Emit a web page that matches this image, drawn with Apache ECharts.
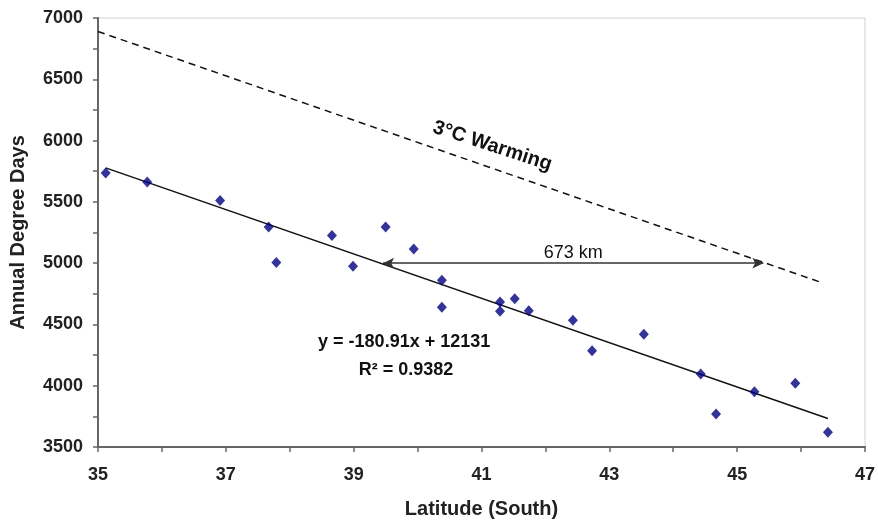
<!DOCTYPE html>
<html>
<head>
<meta charset="utf-8">
<script src="https://cdn.jsdelivr.net/npm/echarts@6/dist/echarts.min.js"></script>
<style>
  html, body { margin: 0; padding: 0; background: #fff; }
  #main { width: 878px; height: 524px; }
</style>
</head>
<body>
<div id="main"></div>
<script>
// site observations: latitude (south) vs annual degree days
var latitude = [35.12, 35.77, 36.91, 37.67, 37.79, 38.66, 38.99, 39.50, 39.94, 40.38, 40.38,
                41.29, 41.29, 41.52, 41.74, 42.43, 42.73, 43.54, 44.43, 44.67, 45.27, 45.91, 46.42];
var degreeDays = [5735, 5662, 5512, 5295, 5005, 5225, 4975, 5295, 5116, 4860, 4640,
                  4683, 4608, 4710, 4612, 4535, 4285, 4420, 4095, 3770, 3950, 4020, 3620];

// linear fit y = -180.91x + 12131 drawn over the data range
var fitSlope = -180.91;
var fitIntercept = 12131;
var fitRange = [35.12, 46.42];

// 3C warming line endpoints
var warmX = [35, 46.33];
var warmY = [6890, 4840];

// 673 km shift arrow at 5000 degree days
var arrowX = [39.46, 45.41];
var arrowY = 5000;

var fitLine = fitRange.map(function (x) { return [x, fitSlope * x + fitIntercept]; });
var warmLine = [[warmX[0], warmY[0]], [warmX[1], warmY[1]]];
var points = latitude.map(function (x, i) { return [x, degreeDays[i]]; });

var chart = echarts.init(document.getElementById('main'));
var font = '"Liberation Sans", Arial, sans-serif';

var option = {
    animation: false,
    backgroundColor: '#fff',
    grid: {
        left: 97,
        right: 11,
        top: 18,
        bottom: 77,
        show: true,
        borderColor: '#d0d0d0',
        borderWidth: 1
    },
    xAxis: {
        type: 'value',
        min: 35,
        max: 47,
        interval: 1,
        name: 'Latitude (South)',
        nameLocation: 'middle',
        nameGap: 52,
        nameTextStyle: { fontFamily: font, fontWeight: 'bold', fontSize: 20, color: '#222' },
        axisLine: { onZero: false, lineStyle: { color: '#666', width: 2 } },
        axisTick: { show: true, length: 5, lineStyle: { color: '#666', width: 1.5 } },
        splitLine: { show: false },
        axisLabel: {
            margin: 19,
            fontFamily: font,
            fontWeight: 'bold',
            fontSize: 18,
            color: '#222',
            formatter: function (v) { return v % 2 === 1 ? String(v) : ''; }
        }
    },
    yAxis: {
        type: 'value',
        min: 3500,
        max: 7000,
        interval: 250,
        name: 'Annual Degree Days',
        nameLocation: 'middle',
        nameRotate: 90,
        nameGap: 70,
        nameTextStyle: { fontFamily: font, fontWeight: 'bold', fontSize: 20, color: '#222' },
        axisLine: { show: true, onZero: false, lineStyle: { color: '#666', width: 2 } },
        axisTick: { show: true, length: 5, lineStyle: { color: '#666', width: 1.5 } },
        splitLine: { show: false },
        axisLabel: {
            margin: 15,
            fontFamily: font,
            fontWeight: 'bold',
            fontSize: 18,
            color: '#222',
            formatter: function (v) { return v % 500 === 0 ? String(v) : ''; }
        }
    },
    series: [{
        name: 'fit',
        type: 'line',
        data: fitLine,
        symbol: 'none',
        lineStyle: { color: '#111', width: 1.5 },
        z: 2,
        markPoint: {
            symbol: 'circle',
            symbolSize: 0,
            label: {
                show: true,
                position: 'inside',
                fontFamily: font,
                fontWeight: 'bold',
                fontSize: 18,
                color: '#111'
            },
            data: [
                { coord: [39.79, 4360], label: { formatter: 'y = -180.91x + 12131' } },
                { coord: [39.82, 4130], label: { formatter: 'R² = 0.9382' } }
            ]
        }
    }, {
        name: 'warming',
        type: 'line',
        data: warmLine,
        symbol: 'none',
        lineStyle: { color: '#111', width: 1.5, type: [7, 5] },
        z: 2,
        markPoint: {
            symbol: 'circle',
            symbolSize: 0,
            label: {
                show: true,
                position: 'inside',
                rotate: -18,
                fontFamily: font,
                fontWeight: 'bold',
                fontSize: 20,
                color: '#111',
                formatter: '3°C Warming'
            },
            data: [{ coord: [41.17, 5955] }]
        }
    }, {
        name: 'shift',
        type: 'line',
        data: [],
        markLine: {
            silent: true,
            symbol: ['arrow', 'arrow'],
            symbolSize: [8, 11],
            lineStyle: { color: '#333', width: 1.5, type: 'solid' },
            label: {
                show: true,
                position: 'middle',
                distance: 1,
                fontFamily: font,
                fontSize: 18,
                color: '#111',
                formatter: '673 km'
            },
            data: [[{ coord: [arrowX[0], arrowY] }, { coord: [arrowX[1], arrowY] }]]
        }
    }, {
        name: 'sites',
        type: 'scatter',
        data: points,
        symbol: 'diamond',
        symbolSize: [10, 11],
        itemStyle: { color: '#000080' },
        z: 3
    }]
};

chart.setOption(option);
</script>
</body>
</html>
